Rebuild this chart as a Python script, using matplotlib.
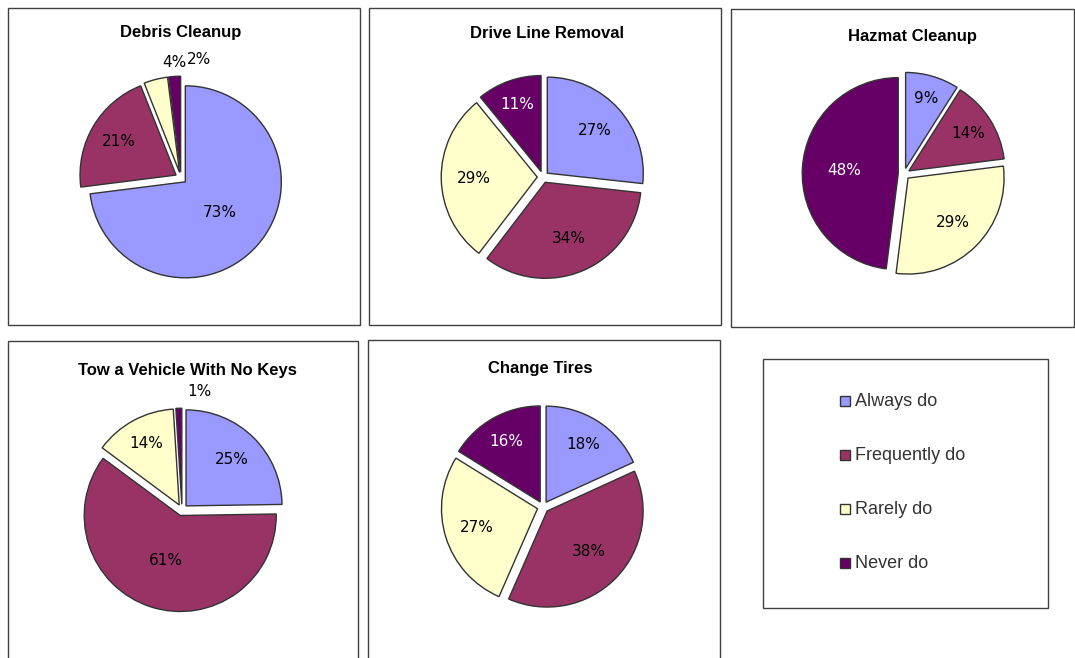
import numpy as np
import matplotlib.pyplot as plt
from matplotlib.patches import Rectangle

plt.rc('font', family='Liberation Sans')

# survey answers, in percent
categories = ["Always do", "Frequently do", "Rarely do", "Never do"]
colors = ["#9999FF", "#993366", "#FFFFCC", "#660066"]
label_colors = ["black", "black", "black", "white"]

titles = ["Debris Cleanup", "Drive Line Removal", "Hazmat Cleanup",
          "Tow a Vehicle With No Keys", "Change Tires"]
debris = [73, 21, 4, 2]
drive_line = [27, 34, 29, 11]
hazmat = [9, 14, 29, 48]
tow = [25, 61, 14, 1]
tires = [18, 38, 27, 16]
series = [debris, drive_line, hazmat, tow, tires]

W, H = 1075, 658
R = 96  # pie radius in pixels

# panel box (x0, y0, x1, y1), pie centre, title position -- all in pixels
panels = [
    ((8, 8, 360, 325), (181, 178), (181, 33)),
    ((369, 8, 721, 325), (543, 177), (547, 34)),
    ((731, 9, 1074, 327), (904, 174), (912, 37)),
    ((8, 341, 358, 680), (182, 510), (187, 370)),
    ((368, 340, 720, 680), (543, 507), (540, 368)),
]
legend_box = (763, 359, 1048, 608)

fig = plt.figure(figsize=(W / 100, H / 100), dpi=100)
bg = fig.add_axes([0, 0, 1, 1])
bg.set_xlim(0, W)
bg.set_ylim(H, 0)
bg.axis('off')

border = dict(facecolor='white', edgecolor='#404040', linewidth=1.0)

for (box, centre, tpos), title, values in zip(panels, titles, series):
    x0, y0, x1, y1 = box
    bg.add_patch(Rectangle((x0, y0), x1 - x0, y1 - y0, **border))
    bg.text(tpos[0], tpos[1], title, ha='center', va='center',
            fontsize=12, fontweight='bold')

    span = 1.3
    size = 2 * span * R
    cx, cy = centre
    ax = fig.add_axes([(cx - size / 2) / W, 1 - (cy + size / 2) / H,
                       size / W, size / H])
    explode = [0.06] * len(values)
    wedges, _ = ax.pie(values, colors=colors, startangle=90,
                       counterclock=False, explode=explode, radius=1,
                       wedgeprops=dict(edgecolor='#333333', linewidth=1.0))
    total = float(sum(values))
    small = [i for i, v in enumerate(values) if v / total < 0.05]
    for i, (w, v, ex, tc) in enumerate(zip(wedges, values, explode,
                                           label_colors)):
        mid = np.deg2rad((w.theta1 + w.theta2) / 2)
        frac = v / total
        ha = 'center'
        if i in small:
            # tiny slices: label above the rim, either side of the top
            d, c = 1.18, 'black'
            x = ex
            ha = 'left' if i == small[-1] else 'right'
        else:
            d, c = max(0.8 - 0.5 * frac, 0.48), tc
            x = (d + ex) * np.cos(mid)
        y = (d + ex) * np.sin(mid)
        ax.text(x, y, f"{v}%", ha=ha, va='center', fontsize=11, color=c,
                family='DejaVu Sans')
    ax.set_xlim(-span, span)
    ax.set_ylim(-span, span)
    ax.set_aspect('equal')
    ax.axis('off')

# legend
x0, y0, x1, y1 = legend_box
bg.add_patch(Rectangle((x0, y0), x1 - x0, y1 - y0, **border))
for i, (name, col) in enumerate(zip(categories, colors)):
    y = 401 + i * 54
    bg.add_patch(Rectangle((840, y - 5), 10, 10, facecolor=col,
                           edgecolor='#333333', linewidth=1.0))
    bg.text(855, y, name, ha='left', va='center', fontsize=13,
            color='#333333')

fig.savefig('out.png', dpi=100)
